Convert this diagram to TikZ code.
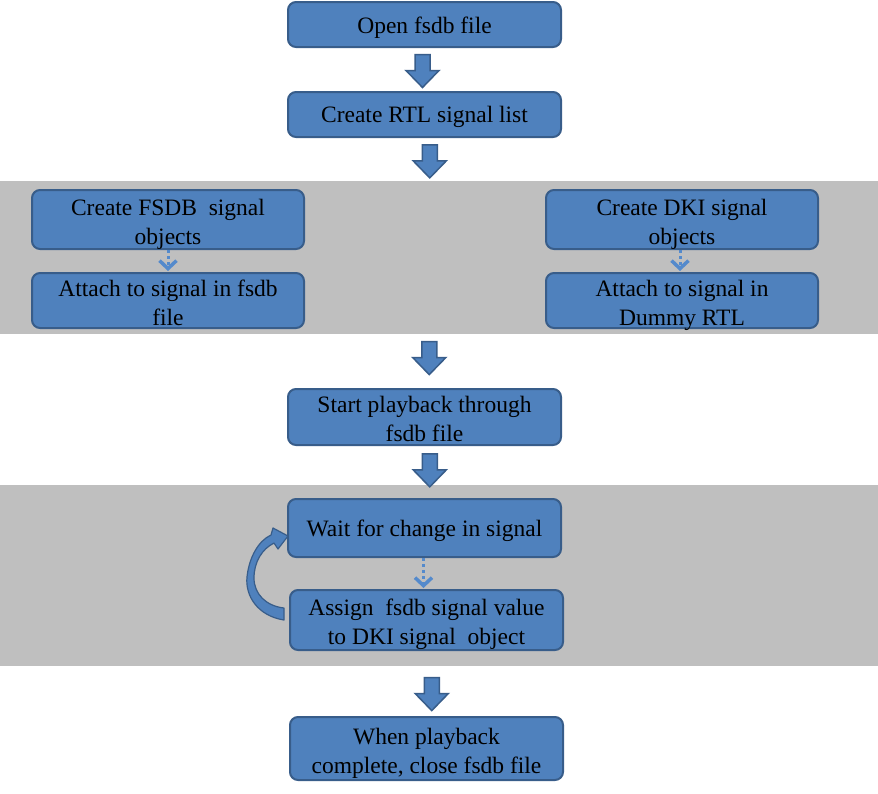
\documentclass[tikz,border=0pt]{standalone}
\usepackage{fontspec}
\setmainfont{Liberation Serif}
\usetikzlibrary{calc,arrows.meta}
\definecolor{boxfill}{RGB}{79,129,189}
\definecolor{boxline}{RGB}{56,93,138}
\definecolor{band}{RGB}{191,191,191}
\definecolor{dotblue}{RGB}{84,138,204}
\tikzset{
  stepbox/.style={draw=boxline, line width=2pt, fill=boxfill, rounded corners=8pt,
    minimum width=273pt, align=center, inner sep=0pt,
    font=\fontsize{23.5}{29}\selectfont, text=black},
  oneline/.style={stepbox, text height=22pt},
  twoline/.style={stepbox, text height=49pt, text depth=0pt},
  bandbox/.style={fill=band, draw=none, minimum width=878pt, inner sep=0pt},
  dotlink/.style={draw=dotblue, line width=3pt, dash pattern=on 3pt off 3pt,
    -{Straight Barb[length=8pt,width=17pt,line width=3.5pt]}, shorten >=1pt},
  blockarrow/.style={fill=boxfill, draw=boxline, line width=1.5pt, line join=miter},
  downarr/.pic={\path[blockarrow] (-7.5,-16) -- (7.5,-16) -- (7.5,0) -- (16.5,0)
    -- (0,17) -- (-16.5,0) -- (-7.5,0) -- cycle;}
}
\begin{document}
\begin{tikzpicture}[x=1pt,y=-1pt]
  \useasboundingbox (0,0) rectangle (878,793);
  \fill[white] (0,0) rectangle (878,793);

  % shaded bands behind the parallel and loop stages
  \node[bandbox, minimum height=153pt] (band1) at (439,257.5) {};
  \node[bandbox, minimum height=181pt] (band2) at (439,575.5) {};

  % main flow boxes
  \node[oneline, minimum height=45pt] (open) at (424.5,24.5) {Open fsdb file};
  \node[oneline, minimum height=45pt] (rtl) at (424.5,114.5) {Create RTL signal list};

  \node[twoline, minimum width=272pt, minimum height=59pt] (fsdbA) at (168,219.5)
    {Create FSDB\ \ signal\\objects};
  \node[twoline, minimum width=272pt, minimum height=55pt] (fsdbB) at (168,300.5)
    {Attach to signal in fsdb\\file};
  \node[twoline, minimum width=272pt, minimum height=59pt] (dkiA) at (682,219.5)
    {Create DKI signal\\objects};
  \node[twoline, minimum width=272pt, minimum height=55pt] (dkiB) at (682,300.5)
    {Attach to signal in\\Dummy RTL};

  \node[twoline, minimum height=56pt] (start) at (424.5,417)
    {Start playback through\\fsdb file};
  \node[oneline, minimum height=58pt] (wait) at (424.5,528) {Wait for change in signal};
  \node[twoline, minimum height=60pt] (assign) at (426.5,620)
    {Assign\ \ fsdb signal value\\to DKI signal\ \ object};
  \node[twoline, minimum height=63pt] (close) at (426.5,748.5)
    {When playback\\complete, close fsdb file};

  % block arrows between stages
  \pic[xshift=-2pt, yshift=-1pt] at ($(open.south)!0.5!(rtl.north)$) {downarr};
  \pic[xshift=-2pt, yshift=-1.5pt] at ($(rtl.south)!0.5!(band1.north)$) {downarr};
  \pic[xshift=-2.5pt, yshift=3.5pt] at ($(band1.south)!0.5!(start.north)$) {downarr};
  \pic[xshift=-2pt, yshift=-4.5pt] at ($(start.south)!0.5!(band2.north)$) {downarr};
  \pic[xshift=-1pt, yshift=-2.5pt] at ($(band2.south)!0.5!(close.north)$) {downarr};

  % dotted links inside the bands
  \draw[dotlink] (fsdbA.south) -- (fsdbB.north);
  \draw[dotlink] ([xshift=-2pt]dkiA.south) -- ([xshift=-2pt]dkiB.north);
  \draw[dotlink] ([xshift=-1pt]wait.south) -- ([xshift=-3pt]assign.north);

  % curved return arrow from assign back to wait
  \path[blockarrow, line width=1.2pt, line join=round]
    (284,620) .. controls (258,616) and (245,596) .. (247,577)
    .. controls (249,558) and (258,541) .. (271,535)
    -- (273,528) -- (288,536) -- (278,549) -- (274,543)
    .. controls (262,549) and (254,562) .. (254,578)
    .. controls (254,594) and (266,606) .. (284,608) -- cycle;
\end{tikzpicture}
\end{document}
